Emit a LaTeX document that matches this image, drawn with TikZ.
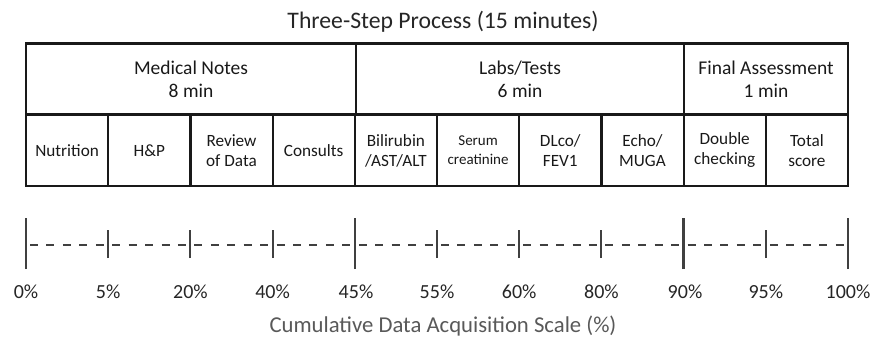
\documentclass[tikz,border=0pt]{standalone}
\usepackage{fontspec}
\setmainfont{Carlito}
\usetikzlibrary{positioning}

\tikzset{
  cell/.style={draw=black!90, line width=2.2pt, minimum height=71pt, inner sep=0pt,
    align=center, text=black!90},
  headcell/.style={cell, font=\fontsize{19.5}{23}\selectfont},
  subcell/.style={cell, minimum width=82.2pt, font=\fontsize{17.2}{20}\selectfont},
  bigtick/.style={draw=black!75, line width=2.6pt},
  smalltick/.style={draw=black!75, line width=2pt},
  pct/.style={text=black!85, font=\fontsize{20}{24}\selectfont},
}

\begin{document}
\begin{tikzpicture}[x=1pt,y=-1pt]
  \useasboundingbox (0,0) rectangle (885,339);
  % title
  \node[text=black!85, font=\fontsize{23.7}{28}\selectfont] (title) at (443,22) {Three-Step Process (15 minutes)};

  % three steps
  \node[headcell, minimum width=330pt] (notes) at (191,79) {Medical Notes\\8 min};
  \node[headcell, minimum width=328pt] (labs) at (520,79) {Labs/Tests\\6 min};
  \node[headcell, minimum width=164pt] (final) at (766,79) {Final Assessment\\1 min};

  % items
  \node[subcell] (nutr) at (67.1,150.5) {Nutrition};
  \node[subcell] (hp) at (149.3,150.5) {H\&P};
  \node[subcell] (review) at (231.5,150.5) {Review\\of Data};
  \node[subcell] (consults) at (313.7,150.5) {Consults};
  \node[subcell] (bili) at (395.9,150.5) {Bilirubin\\/AST/ALT};
  \node[subcell, font=\fontsize{15}{19}\selectfont] (serum) at (478.1,150.5) {Serum\\creatinine};
  \node[subcell] (dlco) at (560.3,150.5) {DLco/\\FEV1};
  \node[subcell] (echo) at (642.5,150.5) {Echo/\\MUGA};
  \node[subcell] (double) at (724.7,150.5) {Double\\checking};
  \node[subcell] (total) at (806.9,150.5) {Total\\score};

  % scale
  \coordinate (s0) at (26,245);
  \coordinate (s1) at (108.2,245);
  \coordinate (s2) at (190.4,245);
  \coordinate (s3) at (272.6,245);
  \coordinate (s4) at (354.8,245);
  \coordinate (s5) at (437,245);
  \coordinate (s6) at (519.2,245);
  \coordinate (s7) at (601.4,245);
  \coordinate (s8) at (683.6,245);
  \coordinate (s9) at (765.8,245);
  \coordinate (s10) at (848,245);
  \draw[draw=black!75, line width=1.8pt, dash pattern=on 8pt off 8.44pt, dash phase=-4pt] (s0) -- (s10);

  \draw[bigtick] ([yshift=-24pt]s0) -- ([yshift=27pt]s0);
  \draw[smalltick] ([yshift=-13pt]s1) -- ([yshift=15pt]s1);
  \draw[smalltick] ([yshift=-13pt]s2) -- ([yshift=15pt]s2);
  \draw[smalltick] ([yshift=-13pt]s3) -- ([yshift=15pt]s3);
  \draw[bigtick] ([yshift=-24pt]s4) -- ([yshift=27pt]s4);
  \draw[smalltick] ([yshift=-13pt]s5) -- ([yshift=15pt]s5);
  \draw[smalltick] ([yshift=-13pt]s6) -- ([yshift=15pt]s6);
  \draw[smalltick] ([yshift=-13pt]s7) -- ([yshift=15pt]s7);
  \draw[bigtick] ([yshift=-24pt]s8) -- ([yshift=27pt]s8);
  \draw[smalltick] ([yshift=-13pt]s9) -- ([yshift=15pt]s9);
  \draw[bigtick] ([yshift=-24pt]s10) -- ([yshift=27pt]s10);

  \node[pct] (p0) at (26,292) {0\%};
  \node[pct] (p1) at (108.2,292) {5\%};
  \node[pct] (p2) at (190.4,292) {20\%};
  \node[pct] (p3) at (272.6,292) {40\%};
  \node[pct] (p4) at (356,292) {45\%};
  \node[pct] (p5) at (437,292) {55\%};
  \node[pct] (p6) at (519.2,292) {60\%};
  \node[pct] (p7) at (601.4,292) {80\%};
  \node[pct] (p8) at (685,292) {90\%};
  \node[pct] (p9) at (765.8,292) {95\%};
  \node[pct] (p10) at (848,292) {100\%};

  \node[text=black!65, font=\fontsize{22.7}{26}\selectfont] (axis) at (443,326) {Cumulative Data Acquisition Scale (\%)};
\end{tikzpicture}
\end{document}
